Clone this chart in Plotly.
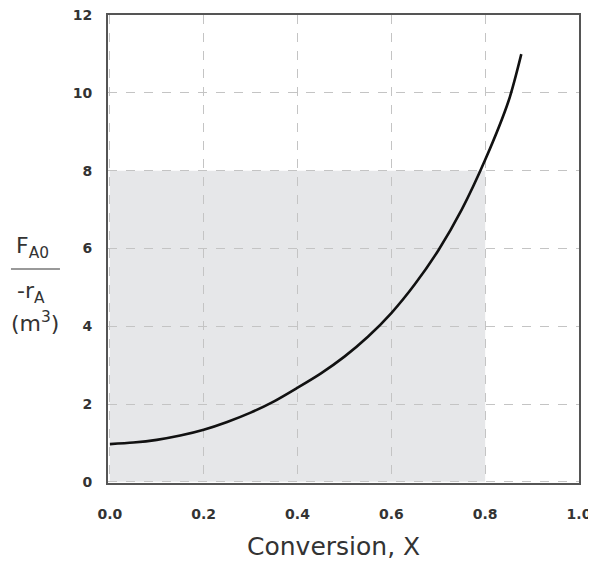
import plotly.graph_objects as go

# Data
conversion = [0.0, 0.05, 0.1, 0.15, 0.2, 0.25, 0.3, 0.35, 0.4, 0.45, 0.5,
              0.55, 0.6, 0.65, 0.7, 0.75, 0.8, 0.85, 0.877]
levenspiel = [0.97, 1.01, 1.08, 1.19, 1.34, 1.54, 1.78, 2.07, 2.42, 2.79, 3.22,
              3.73, 4.34, 5.08, 5.95, 7.0, 8.28, 9.8, 11.0]
shade_x = [0.0, 0.8]
shade_y = [0.0, 8.0]
x_ticks = [0.0, 0.2, 0.4, 0.6, 0.8, 1.0]
x_ticklabels = ["0.0", "0.2", "0.4", "0.6", "0.8", "1.0"]
y_ticks = [0, 2, 4, 6, 8, 10, 12]

fig = go.Figure()
fig.add_trace(go.Scatter(
    x=conversion, y=levenspiel, mode="lines",
    line=dict(color="#111111", width=2.6, shape="spline", smoothing=0.8),
    hoverinfo="skip", showlegend=False,
))

fig.add_shape(type="rect", xref="x", yref="y",
              x0=shade_x[0], x1=shade_x[1], y0=shade_y[0], y1=shade_y[1],
              fillcolor="#e6e7e9", line=dict(width=0), layer="below")

tickfont = dict(family="DejaVu Sans, sans-serif", size=14,
                color="#333333", weight="bold")
fig.update_xaxes(
    range=[-0.004, 1.0], tickvals=x_ticks, ticktext=x_ticklabels,
    showgrid=True, gridcolor="#c4c4c4", griddash="dash", gridwidth=1.2,
    zeroline=False, showline=True, linecolor="#555555", linewidth=2, mirror=True,
    ticks="", ticklabelstandoff=17, tickfont=tickfont, automargin=False,
    ticklabeloverflow="allow",
)
fig.update_yaxes(
    range=[-0.03, 12.005], tickvals=y_ticks,
    showgrid=True, gridcolor="#c4c4c4", griddash="dash", gridwidth=1.2,
    zeroline=False, showline=True, linecolor="#555555", linewidth=2, mirror=True,
    ticks="", ticklabelstandoff=11, tickfont=tickfont, automargin=False,
    ticklabeloverflow="allow",
)

lab = dict(family="DejaVu Sans, sans-serif", size=22, color="#333333")
fig.add_annotation(text="Conversion, X", xref="paper", yref="paper",
                   x=0.478, y=-0.135, yanchor="middle", showarrow=False,
                   font=dict(lab, size=25))
fig.add_annotation(text="F<sub>A0</sub>", xref="paper", yref="paper",
                   x=-0.200, xanchor="left", y=0.504, yanchor="middle", showarrow=False, font=lab)
fig.add_annotation(text="-r<sub>A</sub>", xref="paper", yref="paper",
                   x=-0.197, xanchor="left", y=0.408, yanchor="middle", showarrow=False, font=lab)
fig.add_annotation(text="(m<sup>3</sup>)", xref="paper", yref="paper",
                   x=-0.210, xanchor="left", y=0.344, yanchor="middle", showarrow=False, font=lab)
fig.add_shape(type="line", xref="paper", yref="paper",
              x0=-0.206, x1=-0.102, y0=0.457, y1=0.457,
              line=dict(color="#999999", width=2))

# page body has an 8px margin, so the figure is 8px smaller and shifted
fig.update_layout(
    width=588, height=553,
    margin=dict(l=100, r=17, t=7, b=78),
    plot_bgcolor="white", paper_bgcolor="white",
    font=dict(family="DejaVu Sans, sans-serif"),
)

fig.write_html("out.html")
